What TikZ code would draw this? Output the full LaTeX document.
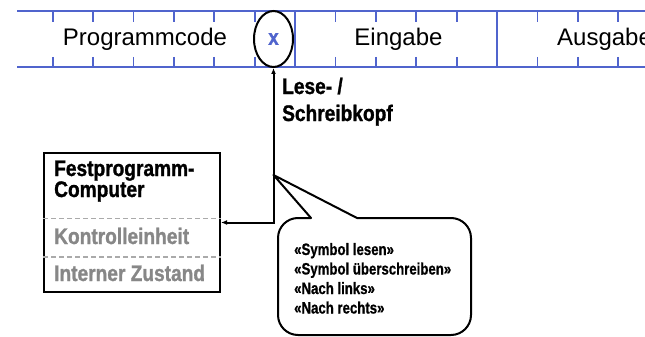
\documentclass[tikz,border=0pt]{standalone}
\usepackage{fontspec}
\setmainfont{Liberation Sans}
\newfontfamily\cond[FakeStretch=0.85,FakeBold=1.2]{Liberation Sans Bold}
\newfontfamily\condn[FakeStretch=0.8,FakeBold=0.8]{Liberation Sans Bold}
\usetikzlibrary{shapes.geometric,arrows.meta}
\definecolor{tapeblue}{RGB}{80,100,205}
\definecolor{dashgray}{RGB}{170,170,170}
\definecolor{txtgray}{RGB}{135,135,135}
\begin{document}
\begin{tikzpicture}[x=1pt,y=-1pt,
  tapeline/.style={draw=tapeblue,line width=1.8pt},
  tapetext/.style={anchor=base,inner sep=0pt,font=\fontsize{24}{28}\selectfont},
  boldlbl/.style={anchor=base west,inner sep=0pt,font=\cond\fontsize{22.5}{23}\selectfont},
  graylbl/.style={boldlbl,text=txtgray},
  calltext/.style={anchor=base west,inner sep=0pt,font=\condn\fontsize{16.5}{17}\selectfont},
  sepline/.style={draw=dashgray,line width=1.4pt,dash pattern=on 5pt off 3pt},
  conn/.style={line width=2pt,{Latex[length=6pt,width=5pt]}-{Latex[length=6pt,width=5pt]}},
  outline/.style={line width=2pt}]
\clip (0,0) rectangle (645,337);
% tape
\draw[tapeline] (17,11) -- (645,11);
\draw[tapeline] (17,67) -- (645,67);
\foreach \x in {52.6,93,133.4,173.8,214.2,254.6,335.4,375.8,416.2,456.6,537.4,577.8,618.2}{
  \draw[tapeline] (\x,11) -- (\x,22);
  \draw[tapeline] (\x,57) -- (\x,67);
}
\foreach \x in {295,497}{\draw[tapeline] (\x,11) -- (\x,67);}
\node[tapetext] (prog) at (145,46) {Programmcode};
\node[tapetext] (ein) at (398.5,46) {Eingabe};
\node[tapetext,anchor=base west] (aus) at (557,46) {Ausgabe};
% head
\node[draw,ellipse,outline,fill=white,minimum width=39pt,minimum height=56pt,inner sep=0pt,
  text=tapeblue,font=\cond\fontsize{22}{22}\selectfont] (head) at (273.5,39) {x};
\node[boldlbl] (lese) at (282,94) {Lese- /};
\node[boldlbl] (schreib) at (282,121) {Schreibkopf};
% computer box
\node[draw,outline,minimum width=176pt,minimum height=139pt,inner sep=0pt] (fpc) at (132,222.5) {};
\node[boldlbl] (fest) at (54,176) {Festprogramm-};
\node[boldlbl] (comp) at (54,197) {Computer};
\draw[sepline] (fpc.west |- 0,218.5) -- (fpc.east |- 0,218.5);
\draw[sepline] (fpc.west |- 0,257) -- (fpc.east |- 0,257);
\node[graylbl] (kontr) at (54,244) {Kontrolleinheit};
\node[graylbl] (intern) at (54,281) {Interner Zustand};
% connector
\draw[conn] (head.south) |- (fpc.east);
% callout
\coordinate (tip) at (273.5,175);
\draw[outline,line join=round] (311,218) -- (tip) -- (357,218) -- (451,218)
  arc[start angle=-90,end angle=0,radius=20] -- (471,315)
  arc[start angle=0,end angle=90,radius=20] -- (298,335)
  arc[start angle=90,end angle=180,radius=20] -- (278,238)
  arc[start angle=180,end angle=270,radius=20] -- cycle;
\node[calltext] (c1) at (294,255) {«Symbol lesen»};
\node[calltext] (c2) at (294,274.5) {«Symbol überschreiben»};
\node[calltext] (c3) at (294,294) {«Nach links»};
\node[calltext] (c4) at (294,313.5) {«Nach rechts»};
\end{tikzpicture}
\end{document}
